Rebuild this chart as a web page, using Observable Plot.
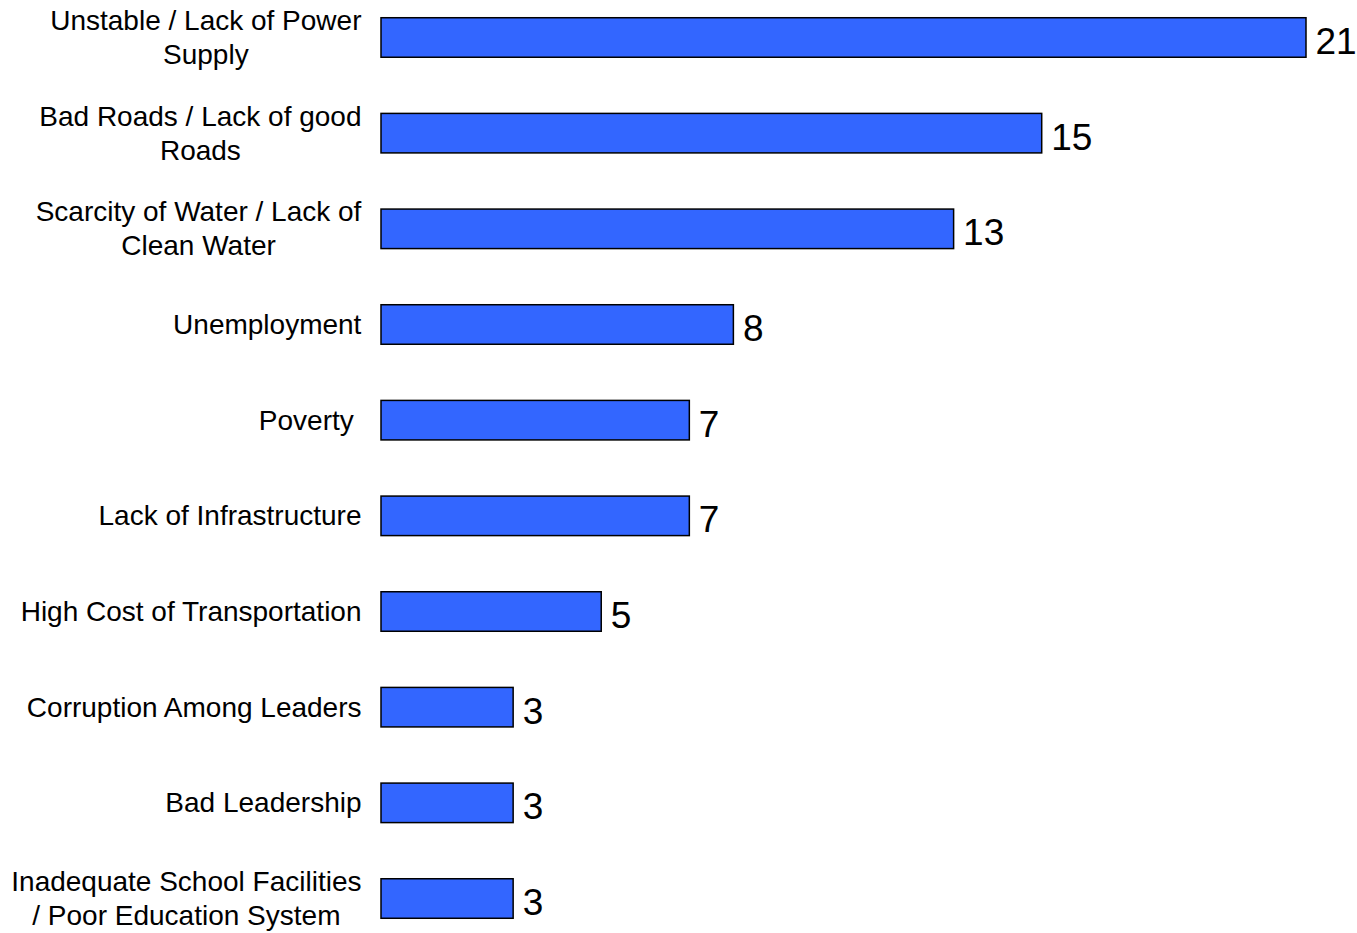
<!DOCTYPE html>
<html>
<head>
<meta charset="utf-8">
<script src="https://cdn.jsdelivr.net/npm/d3@7"></script>
<script src="https://cdn.jsdelivr.net/npm/@observablehq/plot@0.6"></script>
<style>
  html, body { margin: 0; padding: 0; background: #fff; }
  #chart svg text { white-space: pre; }
</style>
</head>
<body>
<div id="chart"></div>
<script>
const categories = [
  "Unstable / Lack of Power\nSupply",
  "Bad Roads / Lack of good\nRoads",
  "Scarcity of Water / Lack of\nClean Water",
  "Unemployment",
  "Poverty ",
  "Lack of Infrastructure",
  "High Cost of Transportation",
  "Corruption Among Leaders",
  "Bad Leadership",
  "Inadequate School Facilities\n/ Poor Education System"
];
const values = [21, 15, 13, 8, 7, 7, 5, 3, 3, 3];

const data = categories.map((c, i) => ({category: c, value: values[i]}));

const chart = Plot.plot({
  width: 1357,
  height: 933,
  marginLeft: 381,
  marginRight: 51,
  marginTop: 3,
  marginBottom: 0,
  style: {fontFamily: "'Liberation Sans', Arial, sans-serif", color: "#000", background: "#fff"},
  x: {domain: [0, 21], axis: null},
  y: {domain: categories, paddingInner: 0.587, paddingOuter: 0.154, round: false, label: null},
  marks: [
    Plot.axisY({tickSize: 0, tickPadding: 20, fontSize: 28, lineHeight: 1.22, dy: -2, label: null, fill: "#000"}),
    Plot.barX(data, {x: "value", y: "category", fill: "#3366FF", stroke: "#000", strokeWidth: 1.5}),
    Plot.text(data, {x: "value", y: "category", text: d => String(d.value), textAnchor: "start", dx: 9, dy: 4, fontSize: 37, fill: "#000"})
  ]
});
document.getElementById("chart").appendChild(chart);

// center multi-line tick labels within their block, keeping the block right-aligned
chart.querySelectorAll('g[aria-label="y-axis tick label"] text').forEach(t => {
  const w = t.getBBox().width;
  t.setAttribute("text-anchor", "middle");
  const tr = t.getAttribute("transform") || "";
  t.setAttribute("transform", tr + ` translate(${-w / 2},0)`);
});
</script>
</body>
</html>
